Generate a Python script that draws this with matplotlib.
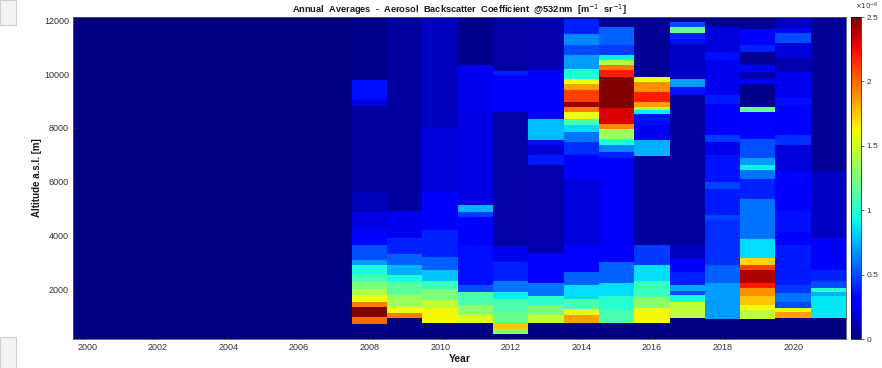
import numpy as np
import matplotlib
matplotlib.use('Agg')
import matplotlib.pyplot as plt
from matplotlib.patches import Rectangle

plt.rcParams['font.family'] = ['Liberation Sans', 'DejaVu Sans']

# years on the x axis; no lidar profiles before 2008
years = list(range(2000, 2022))
empty_years = list(range(2000, 2008))
data_years = list(range(2008, 2022))

# each profile: (top altitude [m], backscatter [1e-6 m^-1 sr^-1]) from the ground up
p_empty = [(12200, 0.0)]
p2008 = [(720, 0.0), (970, 2.0), (1340, 2.5), (1530, 1.95), (1780, 1.6), (2020, 1.4), (2270, 1.25),
         (2520, 1.1), (2890, 0.95), (3080, 0.7), (3630, 0.5), (4250, 0.33), (4870, 0.22), (5620, 0.13),
         (8800, 0.07), (9050, 0.2), (9780, 0.35), (12200, 0.03)]
p2009 = [(930, 0.0), (1110, 1.95), (1350, 1.6), (1780, 1.35), (2270, 1.15), (2520, 0.95), (2900, 0.75),
         (3300, 0.55), (3900, 0.4), (4900, 0.25), (12200, 0.07)]
p2010 = [(730, 0.0), (1300, 1.62), (1600, 1.45), (2000, 1.25), (2300, 1.05), (2700, 0.8), (3200, 0.55),
         (4200, 0.4), (5600, 0.28), (8000, 0.2), (12200, 0.14)]
p2011 = [(730, 0.0), (1050, 1.55), (1400, 1.3), (1900, 1.1), (2150, 0.5), (3600, 0.35), (4700, 0.28),
         (4870, 0.45), (5120, 0.75), (8600, 0.22), (10330, 0.25), (12200, 0.03)]
p2012 = [(340, 0.0), (510, 1.3), (740, 1.75), (1150, 1.2), (1650, 1.1), (1900, 0.9), (2300, 0.6),
         (3000, 0.4), (3600, 0.25), (8600, 0.08), (9950, 0.3), (10130, 0.4), (12200, 0.08)]
p2013 = [(730, 0.0), (1050, 1.45), (1400, 1.25), (1730, 1.0), (2220, 0.6), (3340, 0.32), (6600, 0.1),
         (6980, 0.38), (7350, 0.2), (7540, 0.35), (8340, 0.78), (10150, 0.28), (12200, 0.1)]
p2014 = [(730, 0.0), (1030, 1.85), (1280, 1.55), (1650, 1.1), (2150, 0.85), (2640, 0.55), (3640, 0.32),
         (6110, 0.2), (6980, 0.3), (7480, 0.42), (7850, 0.6), (8100, 0.85), (8340, 1.1), (8590, 1.6),
         (8780, 1.95), (8960, 2.45), (9400, 2.1), (9640, 1.85), (9830, 1.6), (10200, 0.95), (10700, 0.7),
         (11070, 0.5), (11500, 0.65), (12060, 0.4), (12200, 0.05)]
p2015 = [(730, 0.0), (1230, 1.1), (1730, 1.0), (2220, 0.85), (3000, 0.55), (6860, 0.27), (7100, 0.4),
         (7350, 0.65), (7600, 0.95), (7970, 1.35), (8160, 1.9), (8720, 2.3), (9890, 2.5), (10140, 2.2),
         (10330, 1.95), (10510, 1.4), (10700, 0.9), (11070, 0.45), (11750, 0.55), (12200, 0.05)]
p2016 = [(730, 0.0), (1300, 1.62), (1700, 1.3), (2300, 1.05), (2900, 0.85), (3640, 0.45), (6950, 0.07),
         (7540, 0.75), (8090, 0.25), (8530, 0.35), (8650, 0.9), (8780, 1.4), (8960, 1.85), (9330, 2.2),
         (9700, 1.9), (9880, 1.6), (12200, 0.05)]
p2017 = [(920, 0.0), (1540, 1.45), (1780, 0.95), (1920, 0.5), (2150, 0.72), (2640, 0.4), (3140, 0.3),
         (3640, 0.15), (9210, 0.07), (9520, 0.35), (9830, 0.7), (11130, 0.15), (11320, 0.35),
         (11510, 0.4), (11760, 1.2), (11950, 0.5), (12200, 0.05)]
p2018 = [(910, 0.0), (2220, 0.7), (2890, 0.55), (4560, 0.42), (4750, 0.48), (5740, 0.38), (5990, 0.48),
         (6980, 0.36), (7480, 0.24), (7720, 0.45), (8900, 0.3), (9210, 0.38), (10510, 0.25),
         (10820, 0.35), (11750, 0.2), (12200, 0.05)]
p2019 = [(910, 0.0), (1230, 1.45), (1420, 1.6), (1730, 1.75), (2040, 1.9), (2220, 2.2), (2720, 2.4),
         (2900, 2.1), (3150, 1.7), (3880, 0.85), (5370, 0.6), (6110, 0.4), (6420, 0.6), (6610, 0.9),
         (6860, 0.7), (7600, 0.5), (8590, 0.32), (8780, 1.2), (9640, 0.03), (9830, 0.3), (10080, 0.1),
         (10330, 0.3), (10820, 0.05), (11070, 0.4), (11690, 0.3), (12200, 0.05)]
p2020 = [(920, 0.0), (1170, 1.85), (1290, 1.6), (1540, 0.5), (1850, 0.6), (2160, 0.45), (3650, 0.38),
         (4140, 0.3), (4890, 0.35), (5880, 0.28), (6370, 0.32), (7360, 0.2), (7740, 0.42), (8850, 0.3),
         (9100, 0.35), (10090, 0.25), (10590, 0.1), (11140, 0.2), (11510, 0.5), (11700, 0.3),
         (12070, 0.15), (12200, 0.05)]
p2021 = [(920, 0.0), (1730, 0.88), (1910, 0.75), (2040, 1.0), (2300, 0.5), (2700, 0.4), (3900, 0.3),
         (6400, 0.15), (12200, 0.05)]

profiles = [p2008, p2009, p2010, p2011, p2012, p2013, p2014,
            p2015, p2016, p2017, p2018, p2019, p2020, p2021]

xticks = list(range(2000, 2021, 2))
yticks = [2000, 4000, 6000, 8000, 10000, 12000]
cticks = [0, 0.5, 1, 1.5, 2, 2.5]
clabels = ['0', '0.5', '1', '1.5', '2', '2.5']

fig = plt.figure(figsize=(8.82, 3.68), dpi=100)
ax = fig.add_axes([0.0828, 0.0788, 0.8764, 0.875])

all_cols = [(yr, p_empty) for yr in empty_years] + list(zip(data_years, profiles))
mesh = None
for yr, prof in all_cols:
    edges = [0] + [t for t, v in prof]
    vals = np.array([v for t, v in prof])[:, None]
    mesh = ax.pcolormesh([yr - 0.5, yr + 0.5], edges, vals, cmap='jet', vmin=0, vmax=2.5,
                         shading='flat', antialiased=False, linewidth=0)

ax.set_xlim(1999.6, 2021.5)
ax.set_ylim(150, 12120)
ax.set_xticks(xticks)
ax.set_yticks(yticks)
ax.tick_params(direction='in', length=2, width=0.5, labelsize=6.5, colors='#333333', pad=3)
for s in ax.spines.values():
    s.set_linewidth(0.6)
    s.set_color('#555566')

ax.set_title('Annual  Averages  -  Aerosol  Backscatter  Coefficient  @532nm  [m$^{-1}$  sr$^{-1}$]',
             fontsize=6.7, fontweight='bold', color='#1a1a1a', pad=3)
ax.set_xlabel('Year', fontsize=7.5, fontweight='bold', color='#1a1a1a', labelpad=1)
ax.set_ylabel('Altitude a.s.l. [m]', fontsize=7, fontweight='bold', color='#1a1a1a', labelpad=1)

cax = fig.add_axes([0.9649, 0.0788, 0.0113, 0.875])
cb = fig.colorbar(mesh, cax=cax, ticks=cticks)
cb.ax.set_yticklabels(clabels)
cb.ax.tick_params(labelsize=6, colors='#333333', length=2, width=0.5, pad=2)
cb.outline.set_linewidth(0.5)
fig.text(0.983, 0.999, '$\\times10^{-6}$', fontsize=5, color='#333333', ha='center', va='top')

# screenshot leftovers at the left border
fig.patches.append(Rectangle((0, 1 - 25 / 368), 16 / 882, 25 / 368, transform=fig.transFigure,
                             facecolor='#f3f3f3', edgecolor='#cfcfcf', linewidth=0.8))
fig.patches.append(Rectangle((0, 0), 16 / 882, 31 / 368, transform=fig.transFigure,
                             facecolor='#f3f3f3', edgecolor='#cfcfcf', linewidth=0.8))

fig.savefig('out.png', dpi=100)
